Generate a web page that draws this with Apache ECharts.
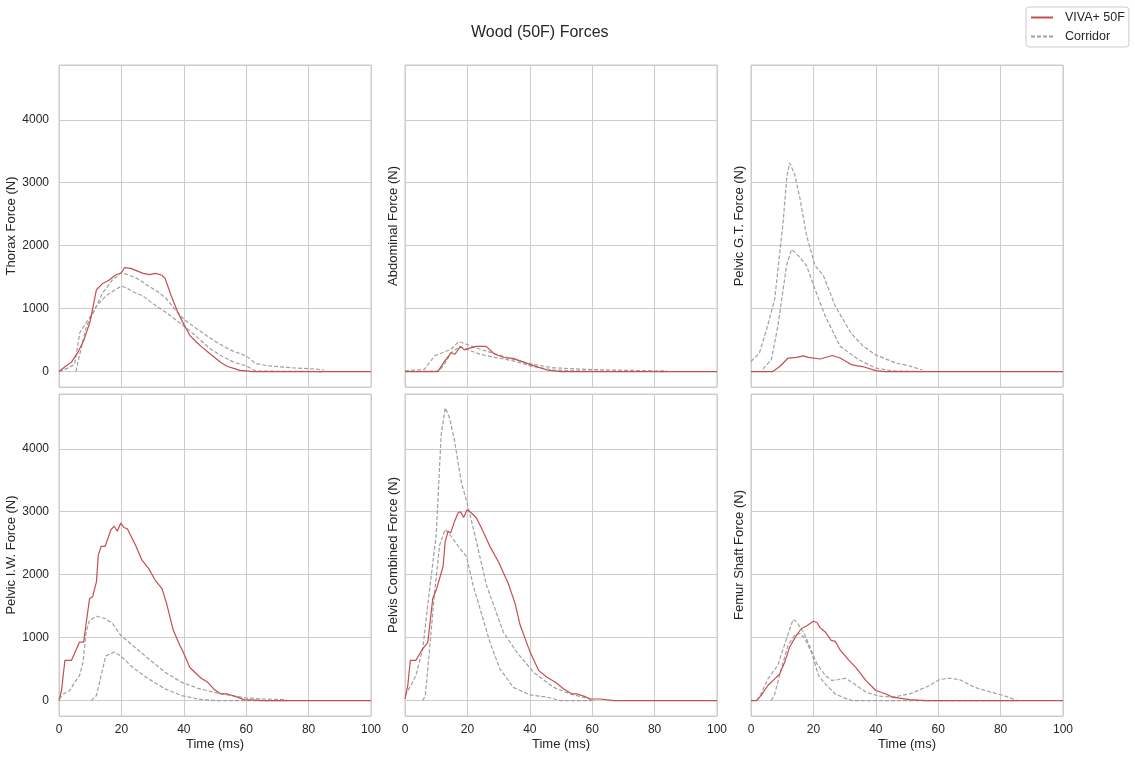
<!DOCTYPE html>
<html>
<head>
<meta charset="utf-8">
<script src="https://cdn.jsdelivr.net/npm/echarts@6/dist/echarts.min.js"></script>
<style>
  html, body { margin: 0; padding: 0; background: #fff; }
  #main { width: 1135px; height: 757px; }
</style>
</head>
<body>
<div id="main"></div>
<script>
// panel titles (y axis names)
var panelNames = ['Thorax Force (N)', 'Abdominal Force (N)', 'Pelvic G.T. Force (N)',
                  'Pelvic I.W. Force (N)', 'Pelvis Combined Force (N)', 'Femur Shaft Force (N)'];
var xTicks = [0, 20, 40, 60, 80, 100];
var yTicks = [0, 1000, 2000, 3000, 4000];

// [time ms, force N]
var thoraxViva = [[0,0],[2,80],[4,150],[6,300],[8,500],[10,800],[12,1300],[14,1400],[16,1450],[18,1530],[20,1570],[21,1650],[23,1640],[25,1600],[27,1560],[29,1540],[31,1560],[33,1530],[34,1480],[36,1200],[38,950],[40,750],[42,570],[44,470],[46,380],[48,300],[50,220],[52,140],[54,80],[56,50],[58,20],[60,10],[62,0],[100,0]];
var thoraxUpper = [[0,0],[3,60],[5,115],[6.7,620],[9,800],[11,940],[14,1250],[17,1450],[20,1570],[22,1540],[25,1480],[28,1380],[31,1290],[34,1180],[37,1000],[40,830],[45,650],[50,480],[55,340],[60,250],[63,130],[67,90],[75,60],[83,37],[85,25]];
var thoraxLower = [[5.4,0],[7,350],[8.8,720],[12,1040],[15,1200],[18,1300],[20,1360],[22,1320],[24,1260],[27,1200],[30,1080],[34,950],[38,800],[40,725],[44,560],[48,380],[52,250],[56,150],[60,90],[63,10],[70,5],[85,0]];

var abdomViva = [[0,0],[10.5,0],[12.5,150],[14.8,300],[16,275],[17.8,400],[19,345],[20.2,365],[22.9,400],[26,400],[28.8,275],[32,220],[34.7,210],[40,115],[45.5,25],[47.6,10],[50,0],[100,0]];
var abdomUpper = [[0,10],[6.2,35],[9.5,250],[12,300],[14.8,355],[17.2,475],[19.7,435],[24,355],[29.4,275],[34.7,195],[41,115],[47.6,60],[58,35],[70,20],[84,10]];
var abdomLower = [[2,0],[11,10],[13,150],[14.8,300],[17.5,395],[19.7,355],[24,275],[29.4,220],[34.7,170],[41,80],[47.6,25],[56,10],[70,5],[84,0]];

var gtViva = [[0,0],[7,0],[9.2,80],[11.9,215],[14.6,225],[16.8,250],[18.4,225],[22.2,200],[26,255],[28.6,215],[32.4,105],[35.7,80],[40,15],[43,0],[100,0]];
var gtUpper = [[0,160],[2.7,295],[5,670],[7.6,1150],[10.3,2380],[11.5,3100],[12.4,3315],[14,3130],[15.7,2750],[17.8,2165],[20.5,1685],[23.2,1525],[27,1040],[32,615],[36,400],[40,265],[46.5,135],[50,100],[55,25]];
var gtLower = [[3.8,40],[6.5,185],[8.6,720],[11.4,1685],[13,1940],[15,1850],[17.8,1685],[20.5,1310],[23.8,880],[28.6,400],[34.6,185],[40,55],[45.4,10],[55,0]];

var iwViva = [[0,0],[0.8,160],[1.9,640],[4,640],[6.6,930],[7.9,930],[8.9,1300],[9.8,1620],[10.8,1650],[12,1890],[12.6,2310],[13.5,2450],[14.8,2450],[16.6,2710],[17.7,2770],[18.7,2690],[19.8,2820],[20.8,2750],[21.9,2730],[24.5,2470],[26.6,2230],[28.7,2100],[30.8,1915],[33,1780],[34.5,1540],[36.6,1120],[38.7,880],[39.8,770],[41.9,530],[43.5,450],[45.6,355],[47.7,290],[49.8,175],[51.9,105],[54,105],[57.2,55],[59.3,15],[66,0],[100,0]];
var iwUpper = [[0,25],[1.4,105],[3.5,160],[5,290],[6.6,400],[7.7,610],[8.7,1090],[9.8,1275],[12,1340],[15,1300],[17.2,1220],[19.8,1035],[23.5,880],[28.7,665],[34,450],[39.3,290],[44.5,195],[49.8,130],[55,80],[60.3,40],[65.6,25],[73,15]];
var iwLower = [[10.3,0],[12,80],[13.5,400],[15,710],[17.7,770],[19.8,710],[23.5,530],[28.7,345],[34,185],[39.3,80],[44.5,25],[50,0],[73,0]];

var combViva = [[0,25],[0.9,240],[1.7,640],[3.5,640],[5.7,825],[7.3,920],[7.8,930],[8.9,1620],[10,1755],[11.1,1940],[12.2,2130],[12.9,2530],[13.8,2690],[14.6,2660],[15.9,2850],[17,2980],[17.8,3000],[18.8,2910],[19.9,3030],[21.3,2980],[22.9,2900],[24.5,2740],[27.2,2450],[29.9,2210],[33.1,1860],[35.3,1540],[36.9,1200],[40.1,770],[42.8,480],[45.5,370],[48.2,290],[50.9,185],[53.5,105],[55.2,105],[57.3,70],[59.5,25],[62.7,25],[67,0],[100,0]];
var combUpper = [[0,80],[1.9,240],[3.5,400],[5.7,825],[7.8,1730],[10,2630],[11.6,4230],[12.9,4650],[14.3,4490],[15.9,4120],[18,3480],[19.9,3140],[22.4,2630],[26.1,1835],[31.5,1090],[35.8,770],[41.2,450],[47.6,210],[53,105],[58.4,35],[60.5,0]];
var combLower = [[5.7,0],[6.5,80],[7.8,770],[9.5,1730],[11.1,2470],[12.9,2720],[14.8,2610],[17.5,2420],[19.7,2290],[21.8,1835],[25,1300],[27.2,930],[30.4,505],[34.7,210],[40.1,90],[45.5,55],[49.8,0],[60,0]];

var femurViva = [[0,0],[1.8,0],[3.2,80],[5.4,240],[7.6,345],[9.2,425],[10.8,610],[12.4,850],[14.6,1040],[16.2,1145],[17.8,1185],[20,1260],[21.1,1240],[22.2,1155],[23.8,1090],[25.7,955],[27,940],[28.6,800],[31.4,640],[33.5,530],[36.8,320],[40,160],[43.2,105],[45.4,55],[50.8,15],[56,0],[100,0]];
var femurUpper = [[1.8,0],[3.2,105],[5.4,345],[8.6,560],[11.4,985],[13.5,1290],[14.6,1250],[16.8,1090],[18.9,850],[21.1,585],[23.8,400],[25.9,320],[28.1,335],[30.3,355],[32.4,290],[36.8,135],[41,70],[45.4,55],[50.8,105],[56.2,215],[60.5,335],[63.8,355],[67,330],[71.4,215],[76.8,135],[81,80],[85.4,0]];
var femurLower = [[6.5,0],[7.6,105],[9.7,505],[11.9,880],[14,1040],[15.7,1065],[17.3,985],[19.5,745],[21.6,400],[23.8,265],[27,105],[30.3,35],[32.4,0],[85,0]];

var vivaSets = [thoraxViva, abdomViva, gtViva, iwViva, combViva, femurViva];
var upperSets = [thoraxUpper, abdomUpper, gtUpper, iwUpper, combUpper, femurUpper];
var lowerSets = [thoraxLower, abdomLower, gtLower, iwLower, combLower, femurLower];

var lefts = [59, 405, 751];
var tops = [65, 394];
var font = '"Liberation Sans", Arial, sans-serif';

var grids = [], xAxes = [], yAxes = [], series = [];
for (var i = 0; i < 6; i++) {
  var col = i % 3, row = Math.floor(i / 3);
  grids.push({ left: lefts[col], top: tops[row], width: 312, height: 322,
    show: true, borderColor: '#cccccc', borderWidth: 1, backgroundColor: '#fff' });
  xAxes.push({
    gridIndex: i, type: 'value', min: 0, max: 100, interval: 20,
    name: row === 1 ? 'Time (ms)' : '', nameLocation: 'middle', nameGap: 22,
    nameTextStyle: { fontFamily: font, fontSize: 13, color: '#262626' },
    axisLine: { show: false }, axisTick: { show: false },
    axisLabel: { show: row === 1, fontFamily: font, fontSize: 12, color: '#262626', margin: 8 },
    splitLine: { show: true, lineStyle: { color: '#cccccc', width: 1 } }
  });
  yAxes.push({
    gridIndex: i, type: 'value', min: -245, max: 4870, splitNumber: 5,
    name: panelNames[i], nameLocation: 'middle', nameGap: col === 0 ? 40 : 5,
    nameTextStyle: { fontFamily: font, fontSize: 13, color: '#262626' },
    axisLine: { show: false }, axisTick: { show: false },
    axisLabel: { show: col === 0, fontFamily: font, fontSize: 12, color: '#262626', margin: 10,
      showMinLabel: false, showMaxLabel: false,
      formatter: function (v) { return yTicks.indexOf(v) >= 0 ? String(v) : ''; } },
    splitLine: { show: true, lineStyle: { color: '#cccccc', width: 1 } }
  });
  series.push({ name: 'VIVA+ 50F', type: 'line', xAxisIndex: i, yAxisIndex: i,
    data: vivaSets[i], showSymbol: false, symbol: 'none', z: 3,
    lineStyle: { color: '#c44e52', width: 1.2 }, itemStyle: { color: '#c44e52' } });
  [upperSets[i], lowerSets[i]].forEach(function (d) {
    series.push({ name: 'Corridor', type: 'line', xAxisIndex: i, yAxisIndex: i,
      data: d, showSymbol: false, symbol: 'none', z: 2,
      lineStyle: { color: '#a0a0a0', width: 1.2, type: [4, 2] }, itemStyle: { color: '#a0a0a0' } });
  });
}

var myChart = echarts.init(document.getElementById('main'));
myChart.setOption({
  animation: false,
  backgroundColor: '#fff',
  title: { text: 'Wood (50F) Forces', left: 466, top: 20,
    textStyle: { fontFamily: font, fontSize: 16, fontWeight: 'normal', color: '#262626' } },
  legend: {
    orient: 'vertical', left: 1026, top: 7, data: ['VIVA+ 50F', 'Corridor'],
    backgroundColor: '#fff', borderColor: '#cccccc', borderWidth: 1, borderRadius: 3,
    padding: [4, 4, 4, 4], itemGap: 6, itemWidth: 22, itemHeight: 12,
    itemStyle: { opacity: 0 },
    textStyle: { fontFamily: font, fontSize: 12.5, color: '#262626', padding: [0, 0, 0, 7] }
  },
  grid: grids, xAxis: xAxes, yAxis: yAxes, series: series
});
</script>
</body>
</html>
